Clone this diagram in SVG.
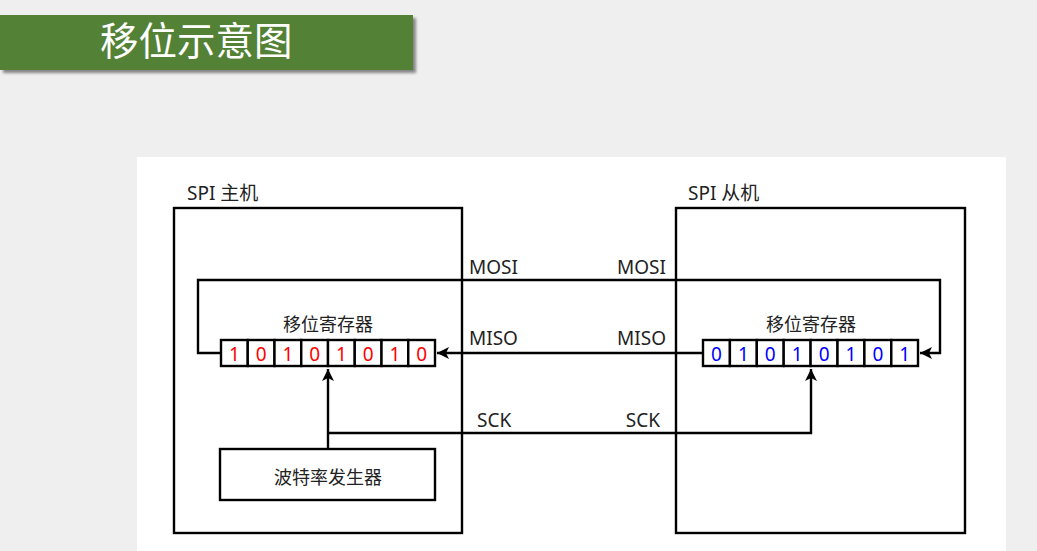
<svg xmlns="http://www.w3.org/2000/svg" width="1037" height="551" viewBox="0 0 1037 551">
  <defs>
    <marker id="arr" markerUnits="userSpaceOnUse" markerWidth="13" markerHeight="13" viewBox="0 0 13 13" refX="12" refY="6.5" orient="auto">
      <path d="M0,0.5 L12,6.5 L0,12.5 L3,6.5 Z" fill="#000"/>
    </marker>
    <filter id="sh" x="-5%" y="-20%" width="115%" height="150%">
      <feGaussianBlur in="SourceAlpha" stdDeviation="1.5"/>
      <feOffset dx="3" dy="3"/>
      <feComponentTransfer><feFuncA type="linear" slope="0.45"/></feComponentTransfer>
      <feMerge><feMergeNode/><feMergeNode in="SourceGraphic"/></feMerge>
    </filter>
  </defs>
  <style>
    text { font-family: "Noto Sans", "Noto Sans CJK SC", sans-serif; fill: #222; }
    .box { fill: #fff; stroke: #000; stroke-width: 2.4; }
    .cell { fill: #fff; stroke: #000; stroke-width: 2.4; }
    .wire { fill: none; stroke: #000; stroke-width: 2.4; }
    .lbl { font-size: 19px; }
    .dig { font-size: 19px; text-anchor: middle; }
    .red { fill: #ff0000; }
    .blue { fill: #0000ff; }
  </style>
  <rect x="0" y="0" width="1037" height="551" fill="#efefef"/>
  <g id="title">
    <rect x="0" y="15" width="413" height="55" fill="#538135" filter="url(#sh)"/>
    <text x="100" y="55" font-size="38.5" style="fill:#fff">移位示意图</text>
  </g>
  <rect x="137" y="157" width="869" height="394" fill="#fff"/>

  <g id="master">
    <rect class="box" x="174" y="208" width="288" height="325"/>
    <text class="lbl" x="187" y="200">SPI 主机</text>
  </g>
  <g id="slave">
    <rect class="box" x="676" y="208" width="289" height="325"/>
    <text class="lbl" x="688" y="200">SPI 从机</text>
  </g>

  <g id="connectors">
    <polyline class="wire" points="221,353 198,353 198,280 940,280 940,353 920,353" marker-end="url(#arr)"/>
    <polyline class="wire" points="703,353 437,353" marker-end="url(#arr)"/>
    <polyline class="wire" points="328,449 328,369" marker-end="url(#arr)"/>
    <polyline class="wire" points="328,433 811,433 811,369" marker-end="url(#arr)"/>
    <text class="lbl" x="469" y="274">MOSI</text>
    <text class="lbl" x="666" y="274" text-anchor="end">MOSI</text>
    <text class="lbl" x="469" y="345">MISO</text>
    <text class="lbl" x="666" y="345" text-anchor="end">MISO</text>
    <text class="lbl" x="477" y="427">SCK</text>
    <text class="lbl" x="660" y="427" text-anchor="end">SCK</text>
  </g>

  <g id="master-register">
    <text x="328" y="331" font-size="18" text-anchor="middle">移位寄存器</text>
    <rect class="cell" x="221" y="340" width="26.75" height="26"/>
    <rect class="cell" x="247.75" y="340" width="26.75" height="26"/>
    <rect class="cell" x="274.5" y="340" width="26.75" height="26"/>
    <rect class="cell" x="301.25" y="340" width="26.75" height="26"/>
    <rect class="cell" x="328" y="340" width="26.75" height="26"/>
    <rect class="cell" x="354.75" y="340" width="26.75" height="26"/>
    <rect class="cell" x="381.5" y="340" width="26.75" height="26"/>
    <rect class="cell" x="408.25" y="340" width="26.75" height="26"/>
    <text class="dig red" x="234.4" y="361">1</text>
    <text class="dig red" x="261.1" y="361">0</text>
    <text class="dig red" x="287.9" y="361">1</text>
    <text class="dig red" x="314.6" y="361">0</text>
    <text class="dig red" x="341.4" y="361">1</text>
    <text class="dig red" x="368.1" y="361">0</text>
    <text class="dig red" x="394.9" y="361">1</text>
    <text class="dig red" x="421.6" y="361">0</text>
  </g>

  <g id="slave-register">
    <text x="811" y="331" font-size="18" text-anchor="middle">移位寄存器</text>
    <rect class="cell" x="703" y="340" width="26.9" height="26"/>
    <rect class="cell" x="729.9" y="340" width="26.9" height="26"/>
    <rect class="cell" x="756.8" y="340" width="26.9" height="26"/>
    <rect class="cell" x="783.7" y="340" width="26.9" height="26"/>
    <rect class="cell" x="810.6" y="340" width="26.9" height="26"/>
    <rect class="cell" x="837.5" y="340" width="26.9" height="26"/>
    <rect class="cell" x="864.4" y="340" width="26.9" height="26"/>
    <rect class="cell" x="891.3" y="340" width="26.7" height="26"/>
    <text class="dig blue" x="716.5" y="361">0</text>
    <text class="dig blue" x="743.4" y="361">1</text>
    <text class="dig blue" x="770.3" y="361">0</text>
    <text class="dig blue" x="797.2" y="361">1</text>
    <text class="dig blue" x="824.1" y="361">0</text>
    <text class="dig blue" x="851" y="361">1</text>
    <text class="dig blue" x="877.9" y="361">0</text>
    <text class="dig blue" x="904.7" y="361">1</text>
  </g>

  <g id="baud-generator">
    <rect class="box" x="220" y="449" width="215" height="51"/>
    <text x="328" y="484" font-size="18" text-anchor="middle">波特率发生器</text>
  </g>
</svg>
